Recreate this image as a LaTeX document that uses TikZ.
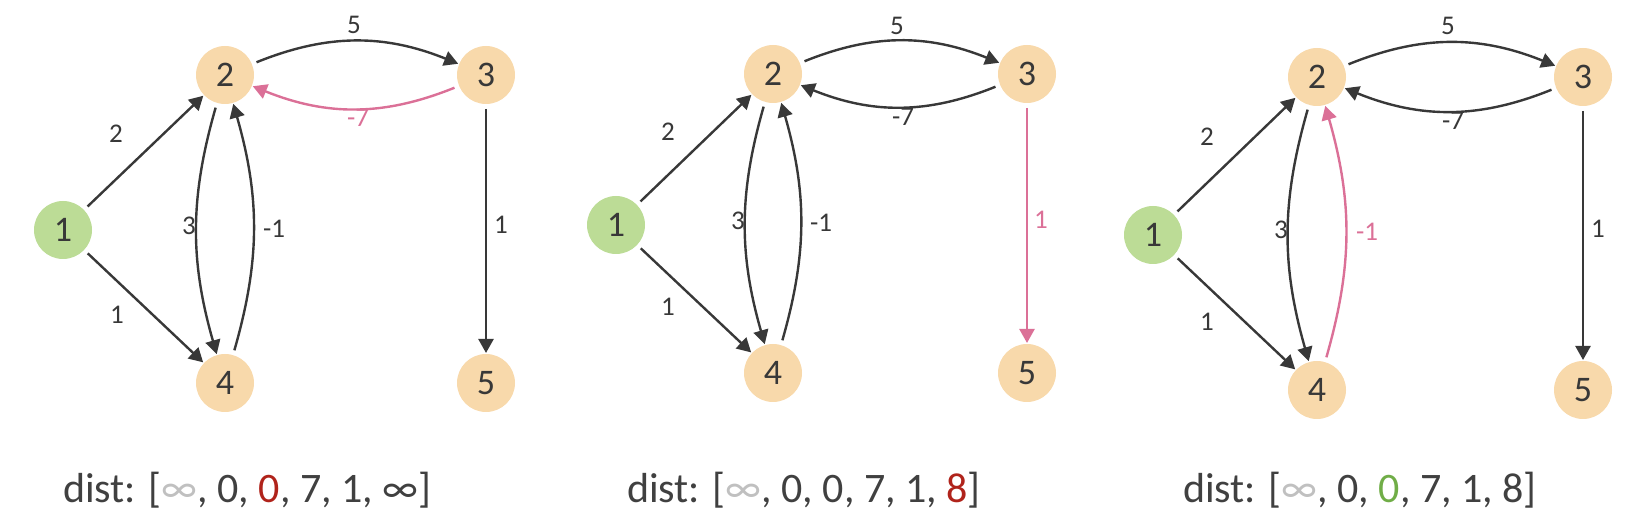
\documentclass[tikz,border=0pt]{standalone}
\usepackage{fontspec}
\setmainfont{Carlito}
\usetikzlibrary{arrows.meta}
\definecolor{edgec}{HTML}{383838}
\definecolor{pinkc}{HTML}{DB7097}
\definecolor{nodeo}{HTML}{F8D9AB}
\definecolor{nodeg}{HTML}{BCDC96}
\definecolor{txt}{HTML}{404040}
\definecolor{infc}{HTML}{C0C0C0}
\definecolor{redc}{HTML}{B0231B}
\definecolor{grnc}{HTML}{70AD47}
\begin{document}
\begin{tikzpicture}[x=1pt,y=1pt,
  vtx/.style={circle, fill=nodeo, minimum size=58pt, inner sep=0pt, outer sep=1pt, text=edgec, font=\fontsize{36}{36}\selectfont},
  src/.style={vtx, fill=nodeg},
  arr/.style={draw=edgec, line width=2.4pt, -{Triangle[length=14pt,width=15pt]}, shorten <=4pt},
  hot/.style={arr, draw=pinkc},
  wlab/.style={text=edgec, font=\fontsize{27}{27}\selectfont, inner sep=0pt},
  hotlab/.style={wlab, text=pinkc},
  distlab/.style={anchor=base west, text=txt, font=\fontsize{42}{42}\selectfont, inner sep=0pt}
]
\path[use as bounding box] (0,0) rectangle (1646,532);

% ---------- panel 1 ----------
\node[src] (a1) at (63,302) {1};
\node[vtx] (a2) at (225,457) {2};
\node[vtx] (a3) at (486,457) {3};
\node[vtx] (a4) at (225,149) {4};
\node[vtx] (a5) at (486,149) {5};
\draw[arr] (a1) -- (a2);
\draw[arr] (a1) -- (a4);
\draw[arr] (a2) to[bend left=22] (a3);
\draw[hot] (a3) to[bend left=22] (a2);
\draw[arr] (a2) to[bend right=16] (a4);
\draw[arr] (a4) to[bend right=16] (a2);
\draw[arr] (a3) -- (a5);
\node[wlab] (a23l) at (354,507) {5};
\node[hotlab] (a32l) at (358,414) {-7};
\node[wlab] (a12l) at (116,398) {2};
\node[wlab] (a14l) at (117,217) {1};
\node[wlab] (a24l) at (189,306) {3};
\node[wlab] (a42l) at (274,303) {-1};
\node[wlab] (a35l) at (501,307) {1};
\node[distlab] (ad) at (63,29) {dist: [\textcolor{infc}{∞}, 0, \textcolor{redc}{0}, 7, 1, ∞]};

% ---------- panel 2 ----------
\node[src] (b1) at (616,307) {1};
\node[vtx] (b2) at (773,458) {2};
\node[vtx] (b3) at (1027,458) {3};
\node[vtx] (b4) at (773,159) {4};
\node[vtx] (b5) at (1027,159) {5};
\draw[arr] (b1) -- (b2);
\draw[arr] (b1) -- (b4);
\draw[arr] (b2) to[bend left=22] (b3);
\draw[arr] (b3) to[bend left=22] (b2);
\draw[arr] (b2) to[bend right=16] (b4);
\draw[arr] (b4) to[bend right=16] (b2);
\draw[hot] (b3) -- (b5);
\node[wlab] (b23l) at (897,506) {5};
\node[wlab] (b32l) at (903,415) {-7};
\node[wlab] (b12l) at (668,400) {2};
\node[wlab] (b14l) at (668,225) {1};
\node[wlab] (b24l) at (738,311) {3};
\node[wlab] (b42l) at (821,309) {-1};
\node[hotlab] (b35l) at (1041,312) {1};
\node[distlab] (bd) at (627,29) {dist: [\textcolor{infc}{∞}, 0, 0, 7, 1, \textcolor{redc}{8}]};

% ---------- panel 3 ----------
\node[src] (c1) at (1153,297) {1};
\node[vtx] (c2) at (1317,455) {2};
\node[vtx] (c3) at (1583,455) {3};
\node[vtx] (c4) at (1317,142) {4};
\node[vtx] (c5) at (1583,142) {5};
\draw[arr] (c1) -- (c2);
\draw[arr] (c1) -- (c4);
\draw[arr] (c2) to[bend left=22] (c3);
\draw[arr] (c3) to[bend left=22] (c2);
\draw[arr] (c2) to[bend right=16] (c4);
\draw[hot] (c4) to[bend right=16] (c2);
\draw[arr] (c3) -- (c5);
\node[wlab] (c23l) at (1448,506) {5};
\node[wlab] (c32l) at (1453,411) {-7};
\node[wlab] (c12l) at (1207,395) {2};
\node[wlab] (c14l) at (1207,210) {1};
\node[wlab] (c24l) at (1281,302) {3};
\node[hotlab] (c42l) at (1367,300) {-1};
\node[wlab] (c35l) at (1598,303) {1};
\node[distlab] (cd) at (1183,29) {dist: [\textcolor{infc}{∞}, 0, \textcolor{grnc}{0}, 7, 1, 8]};
\end{tikzpicture}
\end{document}
